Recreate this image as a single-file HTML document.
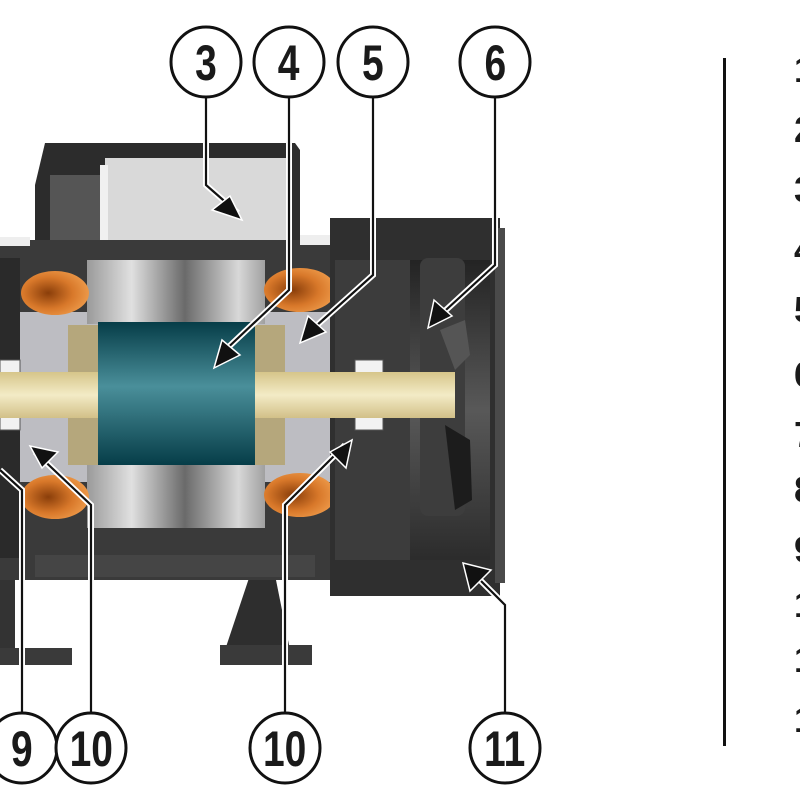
<!DOCTYPE html>
<html><head><meta charset="utf-8"><style>
html,body{margin:0;padding:0;background:#fff;width:800px;height:800px;overflow:hidden}
svg{display:block}
.n{font-family:"Liberation Sans Narrow","Liberation Sans",sans-serif;font-weight:bold;fill:#1a1a1a}
</style></head><body>
<svg width="800" height="800" viewBox="0 0 800 800" xmlns="http://www.w3.org/2000/svg">
<defs>
<linearGradient id="stat" x1="0" x2="1" y1="0" y2="0">
<stop offset="0" stop-color="#9a9a9a"/><stop offset="0.25" stop-color="#e0e0e0"/><stop offset="0.55" stop-color="#6a6a6a"/><stop offset="0.85" stop-color="#d8d8d8"/><stop offset="1" stop-color="#a0a0a0"/>
</linearGradient>
<linearGradient id="rot" x1="0" x2="0" y1="0" y2="1">
<stop offset="0" stop-color="#063d48"/><stop offset="0.45" stop-color="#4a8f9a"/><stop offset="1" stop-color="#063d48"/>
</linearGradient>
<linearGradient id="sh" x1="0" x2="0" y1="0" y2="1">
<stop offset="0" stop-color="#d6c58a"/><stop offset="0.5" stop-color="#f3ebc6"/><stop offset="1" stop-color="#d2c088"/>
</linearGradient>
<radialGradient id="cu" cx="0.4" cy="0.5" r="0.6">
<stop offset="0" stop-color="#8a3e0a"/><stop offset="0.6" stop-color="#d8782a"/><stop offset="1" stop-color="#ec9848"/>
</radialGradient>
<linearGradient id="fan" x1="0" x2="0" y1="0" y2="1">
<stop offset="0" stop-color="#1e1e1e"/><stop offset="0.5" stop-color="#6a6a6a"/><stop offset="1" stop-color="#2a2a2a"/>
</linearGradient>
</defs>

<!-- feet -->
<rect x="0" y="575" width="15" height="75" fill="#333"/>
<rect x="0" y="648" width="72" height="17" fill="#3a3a3a"/>
<polygon points="250,575 275,575 290,650 225,650" fill="#2e2e2e"/>
<rect x="220" y="645" width="92" height="20" fill="#3a3a3a"/>

<!-- terminal box -->
<path d="M35,250 L35,185 L45,143 L295,143 L300,150 L300,250 Z" fill="#2c2c2c"/>
<rect x="50" y="175" width="55" height="75" fill="#555"/>
<rect x="105" y="158" width="182" height="88" fill="#d9d9d9"/>
<rect x="100" y="165" width="8" height="80" fill="#f0f0f0"/>

<!-- main body -->
<rect x="0" y="240" width="335" height="340" fill="#3a3a3a"/>
<rect x="0" y="237" width="30" height="9" fill="#eee"/>
<rect x="300" y="235" width="60" height="10" fill="#eee"/>
<rect x="35" y="555" width="280" height="22" fill="#454545"/>
<rect x="20" y="312" width="310" height="170" fill="#bdbdc2"/>
<rect x="0" y="258" width="20" height="300" fill="#2a2a2a"/>

<!-- stator -->
<rect x="87" y="260" width="178" height="64" fill="url(#stat)"/>
<rect x="87" y="464" width="178" height="64" fill="url(#stat)"/>

<!-- copper -->
<ellipse cx="55" cy="293" rx="34" ry="22" fill="url(#cu)"/>
<ellipse cx="55" cy="497" rx="34" ry="22" fill="url(#cu)"/>
<ellipse cx="300" cy="290" rx="36" ry="22" fill="url(#cu)"/>
<ellipse cx="300" cy="495" rx="36" ry="22" fill="url(#cu)"/>

<!-- fan cover -->
<rect x="330" y="218" width="170" height="378" fill="#2f2f2f"/>
<rect x="495" y="228" width="10" height="355" fill="#4a4a4a"/>
<rect x="335" y="260" width="75" height="300" fill="#3c3c3c"/>
<rect x="410" y="260" width="80" height="300" fill="url(#fan)" opacity="0.7"/>
<rect x="420" y="258" width="45" height="258" rx="8" fill="#3d3d3d"/>
<path d="M440,330 L465,320 L470,355 L455,370 Z" fill="#555"/>
<path d="M445,425 L470,440 L472,500 L455,510 Z" fill="#1c1c1c"/>

<!-- rotor -->
<rect x="68" y="325" width="32" height="140" fill="#b5a77c"/>
<rect x="253" y="325" width="32" height="140" fill="#b5a77c"/>
<rect x="98" y="322" width="157" height="143" fill="url(#rot)"/>

<!-- bearings -->
<rect x="355" y="360" width="28" height="13" fill="#f2f2f2" stroke="#555"/>
<rect x="355" y="417" width="28" height="13" fill="#f2f2f2" stroke="#555"/>
<rect x="0" y="360" width="20" height="13" fill="#f2f2f2" stroke="#555"/>
<rect x="0" y="417" width="20" height="13" fill="#f2f2f2" stroke="#555"/>

<!-- shaft -->
<rect x="0" y="372" width="98" height="46" fill="url(#sh)"/>
<rect x="255" y="372" width="200" height="46" fill="url(#sh)"/>

<!-- leaders -->
<g fill="none" stroke-linejoin="miter">
<g stroke="#fff" stroke-width="6">
<polyline points="206,98 206,185 238,213"/>
<polyline points="289,98 289,290 220,355"/>
<polyline points="373,98 373,275 306,335"/>
<polyline points="495,98 495,265 435,320"/>
<polyline points="22,712 22,490 0,470"/>
<polyline points="91,712 91,505 35,452"/>
<polyline points="285,712 285,505 345,445"/>
<polyline points="505,712 505,605 472,572"/>
</g>
<g stroke="#111" stroke-width="2.2">
<polyline points="206,98 206,185 238,213"/>
<polyline points="289,98 289,290 220,355"/>
<polyline points="373,98 373,275 306,335"/>
<polyline points="495,98 495,265 435,320"/>
<polyline points="22,712 22,490 0,470"/>
<polyline points="91,712 91,505 35,452"/>
<polyline points="285,712 285,505 345,445"/>
<polyline points="505,712 505,605 472,572"/>
</g>
</g>
<g fill="#111" stroke="#fff" stroke-width="1.5">
<polygon points="242,220 212,210 230,196"/>
<polygon points="214,368 222,340 240,355"/>
<polygon points="300,343 308,316 326,332"/>
<polygon points="428,328 434,300 452,316"/>
<polygon points="30,446 58,452 42,468"/>
<polygon points="352,440 346,468 330,452"/>
<polygon points="463,563 491,570 470,591"/>
</g>

<!-- circles -->
<g fill="#fff" stroke="#111" stroke-width="3">
<circle cx="206" cy="62" r="35"/><circle cx="289" cy="62" r="35"/>
<circle cx="373" cy="62" r="35"/><circle cx="495" cy="62" r="35"/>
<circle cx="22" cy="748" r="35"/><circle cx="91" cy="748" r="35"/>
<circle cx="285" cy="748" r="35"/><circle cx="505" cy="748" r="35"/>
</g>
<g class="n" font-size="50" text-anchor="middle" transform="scale(0.78,1)">
<text x="264" y="80">3</text><text x="370" y="80">4</text>
<text x="478" y="80">5</text><text x="635" y="80">6</text>
<text x="28" y="766">9</text><text x="117" y="766">10</text>
<text x="365" y="766">10</text><text x="647" y="766">11</text>
</g>

<!-- right legend -->
<rect x="723" y="58" width="3" height="688" fill="#111"/>
<g class="n" font-size="36">
<text x="794" y="82">1</text><text x="794" y="142">2</text><text x="794" y="202">3</text>
<text x="794" y="262">4</text><text x="794" y="322">5</text><text x="794" y="387">6</text>
<text x="794" y="447">7</text><text x="794" y="502">8</text><text x="794" y="562">9</text>
<text x="794" y="617">1</text><text x="794" y="672">1</text><text x="794" y="732">1</text>
</g>
</svg>
</body></html>
